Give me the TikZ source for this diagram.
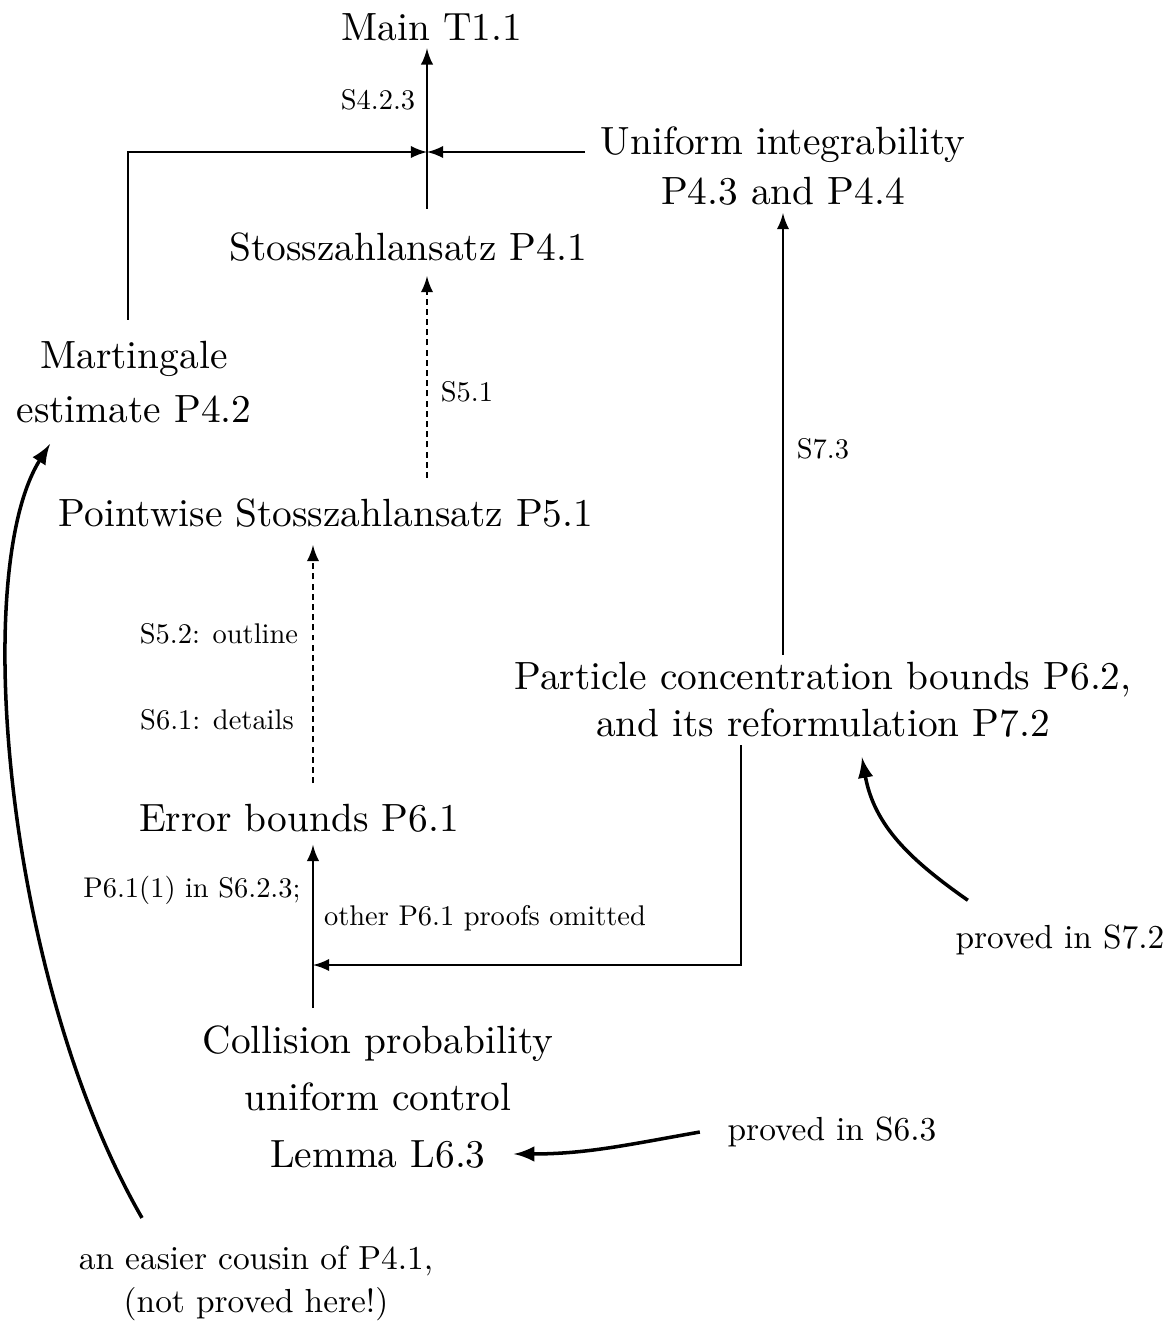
\documentclass[tikz,border=0pt]{standalone}
\usepackage{fontspec}
\setmainfont{lmroman10-regular.otf}
\begin{document}
\begin{tikzpicture}[
  big/.style={font=\fontsize{11.2}{14.2}\selectfont, align=center, inner sep=2pt},
  note/.style={font=\fontsize{9.5}{12.2}\selectfont, align=center, inner sep=2pt},
  lab/.style={font=\fontsize{8.1}{10}\selectfont, inner sep=1pt},
  arr/.style={-latex, semithick},
  darr/.style={-latex, semithick, dash pattern=on 1.7pt off 1.2pt},
  carr/.style={-latex, line width=1pt}]
\useasboundingbox (0,0) rectangle (11.72,-13.24);

\node[big] (main) at (4.32,-0.27) {Main T1.1};
\node[big] (unif) at (7.83,-1.66) {Uniform integrability\\P4.3 and P4.4};
\node[big] (stoss) at (4.08,-2.47) {Stosszahlansatz P4.1};
\node[big, font=\fontsize{11.2}{15.6}\selectfont] (mart) at (1.34,-3.82) {Martingale\\estimate P4.2};
\node[big] (point) at (3.26,-5.13) {Pointwise Stosszahlansatz P5.1};
\node[big, font=\fontsize{11.2}{13.4}\selectfont] (part) at (8.23,-7.00) {Particle concentration bounds P6.2,\\and its reformulation P7.2};
\node[big] (err) at (2.99,-8.18) {Error bounds P6.1};
\node[big, font=\fontsize{11.2}{16.2}\selectfont] (coll) at (3.78,-10.97) {Collision probability\\uniform control\\Lemma L6.3};

\node[note] (note63) at (8.32,-11.32) {proved in S6.3};
\node[note] (note72) at (10.60,-9.40) {proved in S7.2};
\node[note] (cousin) at (2.56,-12.83) {an easier cousin of P4.1,\\(not proved here!)};

\node[lab] (s423) at (3.78,-1.00) {S4.2.3};
\node[lab] (s51) at (4.67,-3.92) {S5.1};
\node[lab] (s73) at (8.23,-4.49) {S7.3};
\node[lab] (s52) at (2.19,-6.34) {S5.2: outline};
\node[lab] (s61) at (2.17,-7.20) {S6.1: details};
\node[lab] (p61a) at (1.92,-8.90) {P6.1(1) in S6.2.3;};
\node[lab] (p61b) at (4.85,-9.18) {other P6.1 proofs omitted};

\coordinate (j) at (4.27,-1.52);
\coordinate (jl) at (1.28,-1.52);
\coordinate (k) at (3.13,-9.65);
\coordinate (kr) at (7.41,-9.65);

% top
\draw[arr, shorten <=0.16cm] (stoss.north -| j) -- (main.south -| j);
\draw[arr, shorten <=0.13cm] (mart.north -| jl) |- (j);
\draw[arr, shorten <=0.08cm] (unif.west |- j) -- (j);
\draw[darr, shorten <=0.13cm, shorten >=0.07cm] (point.north -| j) -- (stoss.south -| j);
\draw[arr] (part.north -| unif) -- (unif.south);

% bottom
\draw[darr, shorten <=0.13cm, shorten >=0.1cm] (err.north -| k) -- (point.south -| k);
\draw[arr, shorten <=0.1cm, shorten >=0.05cm] (coll.north -| k) -- (err.south -| k);
\draw[arr] (part.south -| kr) |- (k);

\draw[carr] ([xshift=-1.14cm,yshift=0.2cm]cousin.north) .. controls (0.05,-9.8) and (-0.3,-5.7) .. ([xshift=-0.84cm,yshift=-0.13cm]mart.south);
\draw[carr] ([xshift=-0.2cm]note63.west) to[out=190,in=0] ([xshift=-0.47cm,yshift=0.22cm]coll.south east);
\draw[carr] ([xshift=0.2cm,yshift=0.17cm]note72.north west) to[out=145,in=-80] ([xshift=0.39cm,yshift=-0.12cm]part.south);
\end{tikzpicture}
\end{document}
